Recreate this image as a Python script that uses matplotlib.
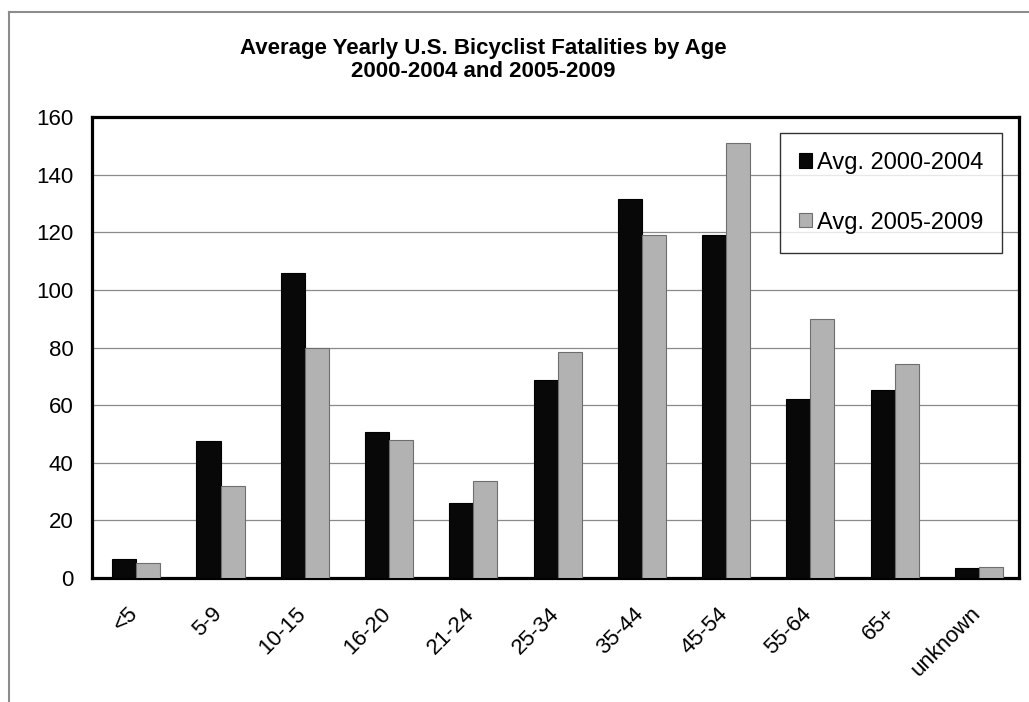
import matplotlib
matplotlib.use("Agg")
import matplotlib.pyplot as plt
from matplotlib.lines import Line2D
import matplotlib.transforms as mtransforms
import numpy as np

plt.rcParams['font.family'] = ['Liberation Sans', 'DejaVu Sans']

categories = ["<5", "5-9", "10-15", "16-20", "21-24", "25-34", "35-44", "45-54", "55-64", "65+", "unknown"]
avg_2000_2004 = [6.6, 47.4, 105.7, 50.5, 26.1, 68.7, 131.6, 119.2, 62.1, 65.2, 3.5]
avg_2005_2009 = [5.1, 31.9, 79.7, 47.9, 33.5, 78.4, 118.9, 151.1, 90.0, 74.2, 3.9]
series_labels = ["Avg. 2000-2004", "Avg. 2005-2009"]
title = "Average Yearly U.S. Bicyclist Fatalities by Age\n2000-2004 and 2005-2009"
yticks = [0, 20, 40, 60, 80, 100, 120, 140, 160]

W, H = 1029, 702
fig = plt.figure(figsize=(W / 100, H / 100), dpi=100)
ax = fig.add_axes([92 / W, (H - 578) / H, (1019 - 92) / W, (578 - 117) / H])

x = np.arange(len(categories))
bw = 0.285
ax.bar(x - bw / 2 + 0.025, avg_2000_2004, width=bw, color="#080808", edgecolor="#000000",
       linewidth=0.8, label=series_labels[0], zorder=3)
ax.bar(x + bw / 2 + 0.025, avg_2005_2009, width=bw, color="#b2b2b2", edgecolor="#6e6e6e",
       linewidth=0.8, label=series_labels[1], zorder=3)

ax.set_xlim(-0.5, len(categories) - 0.5)
ax.set_ylim(0, 160)
ax.set_yticks(yticks)
ax.set_yticklabels([str(v) for v in yticks], fontsize=16)
ax.set_xticks(x)
ax.set_xticklabels(categories, fontsize=16, rotation=45, ha="right", rotation_mode="anchor")
ax.tick_params(axis="y", length=0, pad=13.5)
ax.tick_params(axis="x", length=0, pad=18)
offset = mtransforms.ScaledTranslation(-7 / 100, 0, fig.dpi_scale_trans)
for lbl in ax.get_xticklabels():
    lbl.set_transform(lbl.get_transform() + offset)
ax.yaxis.grid(True, color="#8a8a8a", linewidth=0.9, zorder=0)
ax.set_axisbelow(True)
for s in ax.spines.values():
    s.set_linewidth(2.3)
    s.set_color("#000000")

leg = ax.legend(loc="upper right", bbox_to_anchor=((1002 - 92) / 927, (578 - 133) / 461),
                fontsize=17, frameon=True, fancybox=False, edgecolor="#000000",
                handlelength=0.55, handleheight=0.55, handletextpad=0.2,
                labelspacing=1.6, borderpad=0.8, borderaxespad=0)
leg.get_frame().set_linewidth(1.0)

fig.text(483 / W, 1 - 60 / H, title, ha="center", va="center", fontsize=16,
         fontweight="bold", linespacing=1.15)

# outer chart-area border (top and left visible)
fig.add_artist(Line2D([9 / W, 1.0], [1 - 12 / H, 1 - 12 / H], transform=fig.transFigure,
                      color="#8c8c8c", linewidth=1.5))
fig.add_artist(Line2D([9 / W, 9 / W], [1 - 12 / H, 0.0], transform=fig.transFigure,
                      color="#8c8c8c", linewidth=1.5))

fig.savefig("out.png", dpi=100)
